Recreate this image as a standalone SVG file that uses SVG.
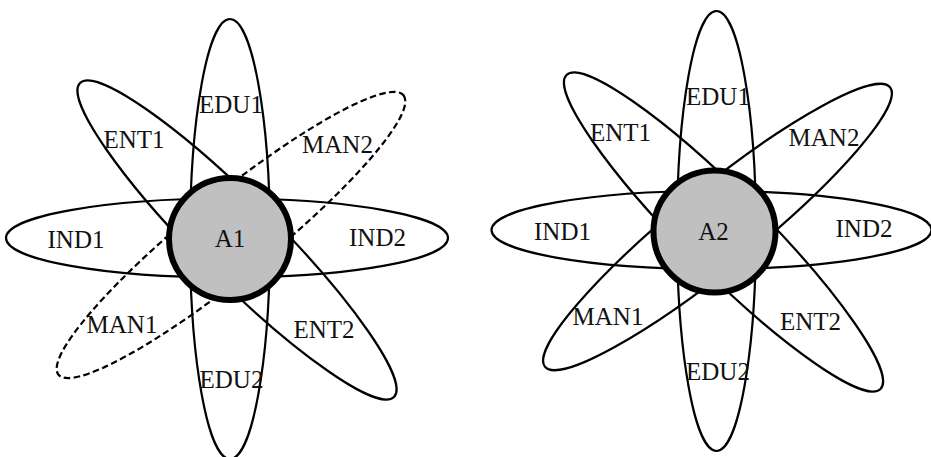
<svg xmlns="http://www.w3.org/2000/svg" width="931" height="457" viewBox="0 0 931 457">
  <style>
    .petal { fill: none; stroke: #000; stroke-width: 2.2; }
    .dashed { stroke-dasharray: 6.5 3.5; }
    .core { fill: #c0c0c0; stroke: #000; stroke-width: 6; }
    text { font-family: "Liberation Serif", "Times New Roman", serif; font-size: 25px; fill: #111; text-anchor: middle; }
  </style>
  <rect width="931" height="457" fill="#fff"/>

  <!-- Flower A1 -->
  <g id="flower-a1">
    <g id="a1-edu">
      <ellipse class="petal" cx="230" cy="239" rx="40" ry="220"/>
      <text x="231" y="113">EDU1</text>
      <text x="231.5" y="388">EDU2</text>
    </g>
    <g id="a1-ind">
      <ellipse class="petal" cx="227" cy="238" rx="221" ry="39.5"/>
      <text x="76" y="248">IND1</text>
      <text x="377.5" y="246">IND2</text>
    </g>
    <g id="a1-ent">
      <ellipse class="petal" cx="237" cy="240" rx="222" ry="40" transform="rotate(45 237 240)"/>
      <text x="134" y="148">ENT1</text>
      <text x="324" y="338">ENT2</text>
    </g>
    <g id="a1-man">
      <ellipse class="petal dashed" cx="231" cy="235" rx="222" ry="40" transform="rotate(-39 231 235)"/>
      <text x="337.5" y="153">MAN2</text>
      <text x="122" y="333">MAN1</text>
    </g>
    <g id="a1-core">
      <circle class="core" cx="230" cy="239" r="61"/>
      <text x="230" y="247">A1</text>
    </g>
  </g>

  <!-- Flower A2 -->
  <g id="flower-a2">
    <g id="a2-edu">
      <ellipse class="petal" cx="716.5" cy="231" rx="39.5" ry="220"/>
      <text x="718" y="105">EDU1</text>
      <text x="718" y="380">EDU2</text>
    </g>
    <g id="a2-ind">
      <ellipse class="petal" cx="711.5" cy="230" rx="220" ry="39"/>
      <text x="562.5" y="240">IND1</text>
      <text x="864" y="237">IND2</text>
    </g>
    <g id="a2-ent">
      <ellipse class="petal" cx="723.5" cy="232" rx="222" ry="40" transform="rotate(45 723.5 232)"/>
      <text x="620.5" y="141">ENT1</text>
      <text x="810.5" y="330">ENT2</text>
    </g>
    <g id="a2-man">
      <ellipse class="petal" cx="717.5" cy="227" rx="222" ry="40" transform="rotate(-39 717.5 227)"/>
      <text x="824" y="146">MAN2</text>
      <text x="608" y="325">MAN1</text>
    </g>
    <g id="a2-core">
      <circle class="core" cx="714.5" cy="231.5" r="61"/>
      <text x="713.5" y="240">A2</text>
    </g>
  </g>

  <g id="connectors"/>
</svg>
